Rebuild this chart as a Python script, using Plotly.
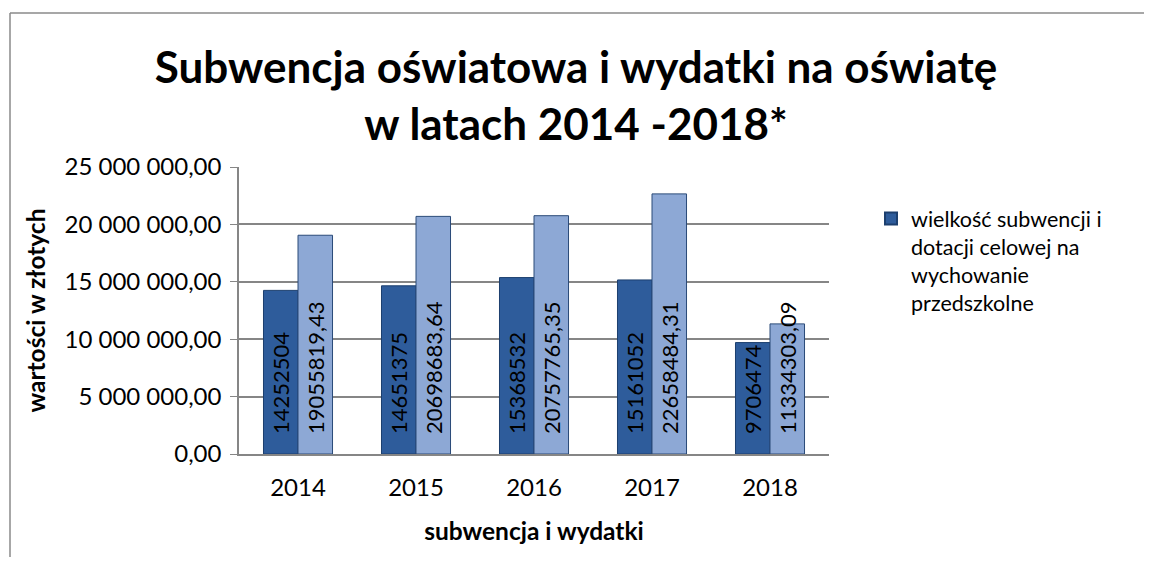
import plotly.graph_objects as go

years = ["2014", "2015", "2016", "2017", "2018"]
subwencja = [14252504, 14651375, 15368532, 15161052, 9706474]
subwencja_labels = ["14252504", "14651375", "15368532", "15161052", "9706474"]
wydatki = [19055819.43, 20698683.64, 20757765.35, 22658484.31, 11334303.09]
wydatki_labels = ["19055819,43", "20698683,64", "20757765,35", "22658484,31", "11334303,09"]
y_tick_vals = [0, 5000000, 10000000, 15000000, 20000000, 25000000]
y_tick_labels = ["0,00", "5 000 000,00", "10 000 000,00", "15 000 000,00",
                 "20 000 000,00", "25 000 000,00"]

FONT = "Lato"
OFF = 8  # default page body margin
W, H = 1136, 549
# plot area in screen pixels: x 239..829, y 167..454
L = 239 - OFF
R = W - (829 - OFF)
T = 167 - OFF
B = H - (454 - OFF)
PW, PH = W - L - R, H - T - B


def px2paper_x(sx):
    return (sx - OFF - L) / PW


def px2paper_y(sy):
    return (H - B - (sy - OFF)) / PH


LBL_TMPL = "\u00a0\u00a0\u00a0%{text}"

fig = go.Figure()
fig.add_trace(go.Bar(
    x=years, y=subwencja, text=subwencja_labels, texttemplate=LBL_TMPL,
    name="wielkość subwencji i<br>dotacji celowej na<br>wychowanie<br>przedszkolne",
    marker=dict(color="#2E5C9B", line=dict(color="#1C3F6E", width=1)),
    textposition="inside", insidetextanchor="start", textangle=-90,
    constraintext="none", cliponaxis=False,
    textfont=dict(family=FONT, size=22, color="black"),
    showlegend=True,
))
fig.add_trace(go.Bar(
    x=years, y=wydatki, text=wydatki_labels, texttemplate=LBL_TMPL,
    name="wydatki",
    marker=dict(color="#8DA8D5", line=dict(color="#2A4A78", width=1)),
    textposition="inside", insidetextanchor="start", textangle=-90,
    constraintext="none", cliponaxis=False,
    textfont=dict(family=FONT, size=22, color="black"),
    showlegend=False,
))

BORDER = dict(color="#8A8A8A", width=1.5)

fig.update_layout(
    width=W, height=H,
    margin=dict(l=L, r=R, t=T, b=B, autoexpand=False),
    paper_bgcolor="white", plot_bgcolor="white",
    barmode="group", bargap=0.415, bargroupgap=0.0,
    font=dict(family=FONT, color="black"),
    title=dict(
        text="<b>Subwencja oświatowa i wydatki na oświatę<br>w latach 2014 -2018*</b>",
        x=(576 - OFF) / W, xanchor="center", xref="container",
        y=1 - 75 / H, yanchor="middle", yref="container",
        font=dict(family=FONT, size=44, color="black"),
    ),
    xaxis=dict(
        showline=True, linecolor="#868686", linewidth=1.5,
        showgrid=False, ticks="",
        tickfont=dict(family=FONT, size=24, color="black"),
        ticklabelstandoff=11,
        title=dict(text="<b>subwencja i wydatki</b>", standoff=23,
                   font=dict(family=FONT, size=24.5, color="black")),
    ),
    yaxis=dict(
        range=[0, 25000000],
        tickvals=y_tick_vals, ticktext=y_tick_labels,
        showline=True, linecolor="#868686", linewidth=1.5,
        showgrid=True, gridcolor="#868686", gridwidth=1.5,
        ticks="outside", ticklen=7, tickcolor="#868686",
        ticklabelstandoff=4,
        tickfont=dict(family=FONT, size=24, color="black"),
        title=dict(text="<b>wartości w złotych</b>", standoff=12,
                   font=dict(family=FONT, size=24.5, color="black")),
        zeroline=False,
    ),
    legend=dict(
        x=px2paper_x(871), y=px2paper_y(198), xanchor="left", yanchor="top",
        valign="top",
        font=dict(family=FONT, size=21.5, color="black"),
        bgcolor="rgba(0,0,0,0)", itemsizing="constant",
    ),
    shapes=[
        dict(type="line", xref="paper", yref="paper",
             x0=px2paper_x(10), x1=px2paper_x(1300),
             y0=px2paper_y(13), y1=px2paper_y(13), line=BORDER, layer="below"),
        dict(type="line", xref="paper", yref="paper",
             x0=px2paper_x(10), x1=px2paper_x(10),
             y0=px2paper_y(13), y1=px2paper_y(700), line=BORDER, layer="below"),
    ],
)

fig.write_html("out.html")
